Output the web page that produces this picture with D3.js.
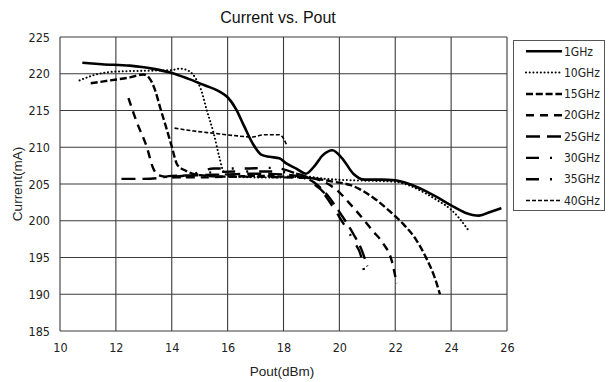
<!DOCTYPE html>
<html>
<head>
<meta charset="utf-8">
<script src="https://cdn.jsdelivr.net/npm/d3@7"></script>
<style>
  html, body { margin: 0; padding: 0; background: #fff; }
  svg { display: block; }
  .tick-label { font-family: "Liberation Sans Narrow", "DejaVu Sans Condensed", "Liberation Sans", sans-serif; font-size: 12.5px; fill: #222; }
  .title { font-family: "Liberation Sans", "Open Sans", sans-serif; font-size: 16px; fill: #111; }
  .axis-title { font-family: "Liberation Sans", "Open Sans", sans-serif; font-size: 13.5px; fill: #222; }
  .legend-label { font-family: "Liberation Sans Narrow", "DejaVu Sans Condensed", "Liberation Sans", sans-serif; font-size: 12px; fill: #222; }
</style>
</head>
<body>
<svg id="chart" width="610" height="382"></svg>
<script>
// Tick values for both axes
const xTicks = [10, 12, 14, 16, 18, 20, 22, 24, 26];
const yTicks = [185, 190, 195, 200, 205, 210, 215, 220, 225];

// Series names
const seriesNames = ["1GHz", "10GHz", "15GHz", "20GHz", "25GHz", "30GHz", "35GHz", "40GHz"];

// Pout (dBm) / Current (mA) per frequency
const pout1 = [10.8, 11.5, 12.5, 13.3, 14.0, 14.6, 15.2, 15.7, 16.0, 16.3, 16.6, 16.9, 17.2, 17.5, 17.85, 18.1, 18.5, 18.8, 19.1, 19.4, 19.75, 20.1, 20.5, 20.9, 21.5, 22.0, 22.5, 23.0, 23.5, 24.0, 24.5, 25.0, 25.4, 25.8];
const cur1  = [221.5, 221.3, 221.1, 220.7, 220.1, 219.3, 218.4, 217.6, 216.8, 215.2, 212.8, 210.5, 209.0, 208.7, 208.5, 207.8, 207.0, 206.4, 207.4, 208.9, 209.6, 208.5, 206.4, 205.6, 205.6, 205.5, 205.0, 204.2, 203.2, 202.1, 201.1, 200.7, 201.2, 201.7];

const pout10 = [10.7, 11.2, 12.0, 13.0, 14.0, 14.3, 14.6, 14.85, 15.05, 15.25, 15.5, 15.7, 15.85, 16.1, 17.0, 18.0, 18.8, 19.5, 20.5, 21.5, 22.0, 22.5, 23.0, 23.5, 24.0, 24.3, 24.6];
const cur10  = [219.1, 219.8, 220.3, 220.4, 220.5, 220.7, 220.4, 219.4, 217.8, 215.1, 211.9, 208.7, 206.7, 206.0, 205.9, 205.9, 206.0, 205.7, 205.5, 205.4, 205.3, 204.8, 203.9, 202.8, 201.5, 200.3, 198.8];

const pout15 = [11.1, 11.8, 12.5, 12.98, 13.2, 13.4, 13.6, 13.8, 14.0, 14.2, 14.5, 15.0, 16.0, 17.0, 18.0, 19.0, 19.8, 20.4, 21.3, 21.8, 22.3, 22.75, 23.1, 23.4, 23.6];
const cur15  = [218.7, 219.1, 219.5, 219.9, 219.4, 217.8, 215.2, 212.7, 210.1, 207.6, 206.8, 206.2, 206.0, 206.1, 206.0, 205.8, 205.3, 204.85, 202.9, 201.3, 199.5, 197.4, 195.0, 192.4, 190.0];

const pout20 = [12.45, 12.74, 13.1, 13.34, 13.52, 14.0, 15.0, 16.0, 17.0, 18.0, 19.0, 19.5, 19.9, 20.38, 20.86, 21.2, 21.57, 21.87, 22.05];
const cur20  = [216.7, 213.5, 210.1, 207.1, 206.2, 205.9, 205.9, 206.0, 206.0, 205.9, 205.8, 205.2, 204.2, 202.3, 200.2, 198.6, 196.9, 194.6, 191.5];

const pout25 = [12.2, 13.0, 13.5, 14.0, 15.0, 16.0, 17.0, 18.0, 18.6, 19.1, 19.5, 20.0, 20.5, 20.8, 21.0];
const cur25  = [205.7, 205.7, 205.8, 206.1, 206.2, 206.3, 206.4, 206.3, 206.0, 205.2, 203.8, 201.2, 198.2, 196.0, 193.8];

const pout30 = [14.0, 14.8, 15.5, 16.5, 17.5, 18.0, 18.5, 19.0, 19.5, 20.0, 20.5, 20.8, 20.92];
const cur30  = [205.9, 206.4, 207.1, 207.1, 207.2, 207.0, 206.3, 205.2, 203.6, 200.5, 197.3, 194.8, 192.3];

const pout35 = [14.5, 15.5, 16.5, 17.5, 18.3, 18.8, 19.2, 19.5, 19.85];
const cur35  = [205.9, 206.6, 206.7, 206.7, 206.5, 206.0, 204.8, 203.4, 201.4];

const pout40 = [14.1, 14.8, 15.5, 16.2, 16.9, 17.3, 17.85, 18.0, 18.1];
const cur40  = [212.6, 212.2, 211.9, 211.6, 211.4, 211.7, 211.7, 211.2, 210.4];

const seriesX = [pout1, pout10, pout15, pout20, pout25, pout30, pout35, pout40];
const seriesY = [cur1, cur10, cur15, cur20, cur25, cur30, cur35, cur40];

// Stroke styles per series
const styles = [
  { width: 2.6, dash: null, cap: "butt" },
  { width: 2.0, dash: "0.1,3.6", cap: "round" },
  { width: 2.4, dash: "7,2.8", cap: "butt" },
  { width: 2.4, dash: "8,6", cap: "butt" },
  { width: 2.4, dash: "14,7", cap: "butt" },
  { width: 2.4, dash: "13,11,2,11", cap: "butt" },
  { width: 2.4, dash: "13,11,2,11", cap: "butt" },
  { width: 1.6, dash: "4,2", cap: "butt" }
];

const svg = d3.select("#chart");
const plot = { left: 60, right: 507, top: 37, bottom: 331 };

const x = d3.scaleLinear().domain([10, 26]).range([plot.left, plot.right]);
const y = d3.scaleLinear().domain([185, 225]).range([plot.bottom, plot.top]);

const gridColor = "#3a3a3a";

// Gridlines
svg.append("g").selectAll("line.vgrid").data(xTicks).join("line")
  .attr("x1", d => x(d)).attr("x2", d => x(d))
  .attr("y1", plot.top).attr("y2", plot.bottom)
  .attr("stroke", gridColor).attr("stroke-width", 1.1);
svg.append("g").selectAll("line.hgrid").data(yTicks).join("line")
  .attr("x1", plot.left).attr("x2", plot.right)
  .attr("y1", d => y(d)).attr("y2", d => y(d))
  .attr("stroke", gridColor).attr("stroke-width", 1.1);

// Axes (labels only; the grid forms the frame)
const xAxis = d3.axisBottom(x).tickValues(xTicks).tickSize(0).tickPadding(12).tickFormat(d3.format("d"));
const gx = svg.append("g").attr("transform", `translate(0,${plot.bottom})`).call(xAxis);
gx.select(".domain").remove();
gx.selectAll("text").attr("class", "tick-label");

const yAxis = d3.axisLeft(y).tickValues(yTicks).tickSize(0).tickPadding(10).tickFormat(d3.format("d"));
const gy = svg.append("g").attr("transform", `translate(${plot.left},0)`).call(yAxis);
gy.select(".domain").remove();
gy.selectAll("text").attr("class", "tick-label");

// Series lines
const line = d3.line()
  .x(d => x(d[0]))
  .y(d => y(d[1]))
  .curve(d3.curveMonotoneX);

const series = seriesNames.map((name, i) => ({
  name,
  style: styles[i],
  points: seriesX[i].map((v, j) => [v, seriesY[i][j]])
}));

svg.append("g").selectAll("path").data(series.slice().reverse()).join("path")
  .attr("d", d => line(d.points))
  .attr("fill", "none")
  .attr("stroke", "#000")
  .attr("stroke-width", d => d.style.width)
  .attr("stroke-dasharray", d => d.style.dash)
  .attr("stroke-linecap", d => d.style.cap)
  .attr("stroke-linejoin", "round");

// Title
svg.append("text").attr("class", "title")
  .attr("x", 278).attr("y", 23).attr("text-anchor", "middle")
  .text("Current vs. Pout");

// Axis titles
svg.append("text").attr("class", "axis-title")
  .attr("x", 282).attr("y", 376).attr("text-anchor", "middle")
  .text("Pout(dBm)");
svg.append("text").attr("class", "axis-title")
  .attr("transform", "translate(22,184) rotate(-90)")
  .attr("text-anchor", "middle")
  .text("Current(mA)");

// Legend
const legend = svg.append("g");
legend.append("rect")
  .attr("x", 513.5).attr("y", 40.5).attr("width", 91).attr("height", 170)
  .attr("fill", "#fff").attr("stroke", "#555").attr("stroke-width", 1);

const legendRow = d3.scaleLinear().domain([0, seriesNames.length - 1]).range([51.3, 200.5]);
const rows = legend.selectAll("g.row").data(series).join("g")
  .attr("transform", (d, i) => `translate(0,${legendRow(i)})`);
rows.append("line")
  .attr("x1", 526).attr("x2", 562).attr("y1", 0).attr("y2", 0)
  .attr("stroke", "#000")
  .attr("stroke-width", d => d.style.width)
  .attr("stroke-dasharray", d => d.style.dash)
  .attr("stroke-linecap", d => d.style.cap);
rows.append("text").attr("class", "legend-label")
  .attr("x", 564).attr("y", 0).attr("dy", "0.35em")
  .text(d => d.name);
</script>
</body>
</html>
